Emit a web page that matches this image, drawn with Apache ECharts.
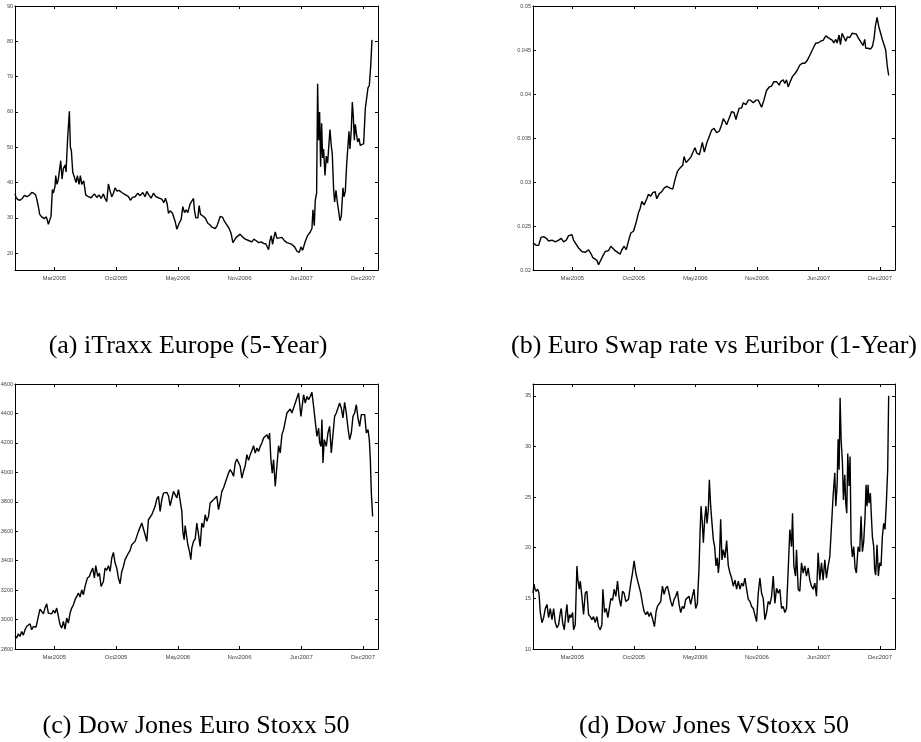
<!DOCTYPE html>
<html>
<head>
<meta charset="utf-8">
<title>Credit and market indicators</title>
<script src="https://cdn.jsdelivr.net/npm/echarts@6/dist/echarts.min.js"></script>
<style>
html,body{margin:0;padding:0;background:#fff;}
#main{width:921px;height:742px;}
</style>
</head>
<body>
<div id="main"></div>
<script>
/*** data, x = time index (about one day) ***/
var xTickPos = [118, 303, 488, 673, 858, 1043];
var xTickLabels = ['Mar2005', 'Oct2005', 'May2006', 'Nov2006', 'Jun2007', 'Dec2007'];

var yTicksA = [20, 30, 40, 50, 60, 70, 80, 90];
var yTicksB = [0.02, 0.025, 0.03, 0.035, 0.04, 0.045, 0.05];
var yTicksC = [2800, 3000, 3200, 3400, 3600, 3800, 4000, 4200, 4400, 4600];
var yTicksD = [10, 15, 20, 25, 30, 35];

var captions = ['(a) iTraxx Europe (5-Year)', '(b) Euro Swap rate vs Euribor (1-Year)',
	'(c) Dow Jones Euro Stoxx 50', '(d) Dow Jones VStoxx 50'];

//iTraxx Europe 5Y
var itraxx = [[0,36.8],[3,35.8],[8,35.2],[15,35.0],[22,35.5],[28,36.4],[35,36.0],[42,36.3],[50,37.2],[56,37.0],
	[62,36.5],[66,35.0],[70,33.2],[74,31.0],[80,30.3],[88,29.8],[94,30.3],[100,28.2],[104,28.0],[108,30.5],
	[112,38.0],[115,37.0],[120,39.0],[122,42.0],[126,39.5],[130,41.0],[137,46.2],[141,41.0],[145,44.0],[150,45.0],
	[153,43.0],[158,53.0],[163,60.2],[166,50.0],[169,49.0],[173,43.0],[178,42.5],[183,40.0],[187,42.0],[192,39.5],
	[196,42.0],[200,39.5],[206,40.5],[212,36.5],[220,36.0],[228,35.7],[238,36.8],[245,35.8],[252,36.5],[258,35.5],
	[265,36.8],[270,35.5],[275,34.6],[280,39.6],[284,38.0],[290,36.0],[295,37.0],[300,38.5],[306,37.6],[312,37.8],
	[320,37.2],[330,36.6],[340,36.0],[346,35.0],[352,35.8],[360,36.0],[368,37.0],[375,36.3],[383,37.2],[390,36.0],
	[395,37.5],[402,36.4],[408,35.6],[415,37.0],[422,36.0],[430,35.7],[440,35.3],[446,34.3],[451,35.6],[456,34.0],
	[460,31.3],[465,32.0],[472,31.3],[480,29.0],[485,26.8],[492,28.5],[498,29.6],[503,33.2],[508,31.5],[513,32.3],
	[518,31.5],[525,34.0],[530,34.2],[535,35.5],[538,32.0],[542,30.0],[548,30.0],[552,33.5],[556,31.0],[562,30.6],
	[570,30.0],[578,28.5],[585,28.0],[590,27.4],[595,27.8],[600,27.0],[605,27.6],[610,27.3],[615,30.4],[622,30.2],
	[628,29.0],[635,28.0],[642,27.0],[648,25.5],[653,23.0],[658,22.8],[663,24.5],[668,24.0],[675,25.4],[680,24.8],
	[690,24.0],[700,23.6],[710,23.2],[716,24.0],[722,23.6],[730,23.0],[738,23.2],[745,22.8],[752,22.6],[760,21.0],
	[764,23.5],[768,25.0],[772,22.5],[776,24.5],[780,26.0],[785,24.2],[790,24.7],[800,24.5],[808,23.5],[815,23.0],
	[822,22.8],[830,22.5],[838,21.8],[845,20.6],[852,20.2],[857,21.8],[862,20.8],[866,20.6],[870,23.3],[877,25.0],
	[885,26.0],[890,27.0],[893,32.3],[897,27.8],[900,35.0],[904,37.0],[907,68.0],[910,52.0],[913,60.0],[916,44.5],
	[919,56.8],[922,47.0],[925,49.5],[929,42.0],[933,47.5],[937,45.5],[940,46.0],[944,55.0],[948,50.5],[951,48.0],
	[955,38.0],[958,34.5],[962,37.8],[966,34.5],[970,32.0],[974,29.2],[978,30.5],[983,38.5],[986,36.0],[990,37.5],
	[994,45.0],[997,44.5],[1001,54.5],[1004,49.5],[1008,55.0],[1011,62.8],[1014,58.7],[1017,52.0],[1020,56.5],[1023,54.0],
	[1027,51.5],[1031,52.5],[1035,50.5],[1040,50.0],[1045,51.0],[1050,61.0],[1054,61.5],[1058,66.8],[1062,67.5],[1066,72.8],
	[1070,80.4]];

//Euro swap rate vs Euribor 1Y
var swapRate = [[0,0.0231],[4,0.0233],[10,0.0228],[17,0.0228],[24,0.0237],[32,0.0238],[40,0.0236],[47,0.0233],[57,0.0234],[67,0.0232],
	[77,0.0234],[85,0.0236],[92,0.0232],[100,0.0234],[107,0.0239],[112,0.0241],[117,0.0240],[122,0.0234],[130,0.0229],[137,0.0225],
	[147,0.0221],[157,0.0220],[167,0.0223],[175,0.0218],[180,0.0214],[185,0.0216],[192,0.0211],[197,0.0206],[202,0.0208],[210,0.0216],
	[217,0.0221],[227,0.0222],[234,0.0227],[240,0.0226],[247,0.0222],[252,0.0223],[262,0.0218],[267,0.0223],[274,0.0227],[280,0.0223],
	[287,0.0233],[294,0.0242],[302,0.0244],[310,0.0254],[317,0.0265],[322,0.0270],[327,0.0278],[334,0.0274],[342,0.0281],[347,0.0286],
	[354,0.0284],[360,0.0288],[367,0.0289],[372,0.0281],[380,0.0287],[387,0.0289],[394,0.0293],[402,0.0295],[412,0.0293],[420,0.0292],
	[427,0.0303],[434,0.0312],[442,0.0316],[450,0.0319],[454,0.0329],[460,0.0322],[467,0.0325],[474,0.0328],[482,0.0335],[487,0.0339],
	[492,0.0333],[500,0.0331],[504,0.0337],[509,0.0345],[515,0.0334],[522,0.0344],[530,0.0352],[537,0.0359],[544,0.0361],[552,0.0356],
	[560,0.0358],[567,0.0365],[572,0.0372],[577,0.0369],[582,0.0365],[590,0.0373],[597,0.0380],[604,0.0379],[610,0.0371],[614,0.0377],
	[620,0.0384],[627,0.0384],[632,0.0390],[640,0.0388],[647,0.0393],[654,0.0393],[662,0.0390],[670,0.0393],[677,0.0393],[687,0.0385],
	[694,0.0393],[702,0.0404],[710,0.0408],[717,0.0409],[724,0.0414],[732,0.0414],[740,0.0410],[744,0.0414],[752,0.0416],[757,0.0412],
	[762,0.0416],[767,0.0408],[772,0.0413],[780,0.0420],[787,0.0423],[794,0.0427],[802,0.0433],[810,0.0435],[817,0.0435],[824,0.0438],
	[832,0.0444],[837,0.0448],[842,0.0452],[850,0.0458],[857,0.0458],[864,0.0460],[872,0.0461],[880,0.0466],[887,0.0464],[892,0.0463],
	[900,0.0461],[904,0.0458],[910,0.0462],[914,0.0458],[920,0.0467],[924,0.0456],[929,0.0469],[934,0.0471],[940,0.0460],[945,0.0465],
	[952,0.0464],[959,0.0469],[965,0.0467],[972,0.0468],[977,0.0464],[982,0.0466],[987,0.0458],[992,0.0455],[997,0.0462],[1000,0.0452],
	[1007,0.0452],[1014,0.0451],[1020,0.0454],[1025,0.0463],[1029,0.0477],[1034,0.0487],[1039,0.0477],[1044,0.0475],[1050,0.0462],[1055,0.0461],
	[1060,0.0450],[1065,0.0431],[1069,0.0421]];

//DJ Euro Stoxx 50
var stoxx50 = [[0,2890],[5,2874],[10,2903],[15,2885],[20,2919],[25,2894],[30,2931],[35,2953],[40,2947],[45,2971],
	[50,2931],[55,2953],[63,2949],[70,3021],[75,3071],[80,3078],[85,3039],[90,3078],[95,3107],[100,3044],
	[105,3055],[110,3039],[115,3062],[120,3044],[125,3078],[130,3071],[135,2965],[140,2942],[145,2987],[150,2935],
	[155,3010],[160,2976],[165,3044],[170,3078],[175,3101],[180,3135],[185,3157],[190,3180],[195,3153],[200,3202],
	[205,3169],[210,3225],[217,3282],[223,3293],[227,3320],[233,3350],[238,3282],[242,3366],[248,3293],[253,3316],
	[258,3225],[265,3259],[270,3350],[275,3334],[280,3366],[285,3327],[290,3418],[295,3456],[300,3384],[305,3350],
	[310,3282],[315,3243],[320,3327],[325,3361],[330,3407],[335,3407],[340,3452],[345,3470],[350,3508],[355,3501],
	[360,3531],[365,3565],[370,3599],[375,3606],[380,3656],[385,3645],[390,3576],[395,3531],[400,3678],[405,3678],
	[410,3712],[415,3719],[420,3769],[425,3819],[430,3837],[435,3735],[440,3814],[445,3859],[450,3855],[455,3864],
	[460,3841],[465,3773],[470,3769],[475,3871],[480,3859],[485,3826],[490,3882],[495,3882],[500,3735],[503,3599],
	[507,3542],[510,3638],[515,3626],[518,3508],[523,3463],[527,3407],[530,3486],[535,3531],[540,3547],[545,3656],
	[550,3651],[555,3497],[560,3656],[565,3626],[570,3712],[575,3667],[580,3701],[585,3792],[590,3780],[595,3814],
	[600,3803],[605,3837],[610,3746],[615,3803],[620,3871],[625,3894],[630,3928],[635,3961],[640,3995],[645,4018],
	[650,4000],[655,3973],[660,4063],[665,4090],[670,4081],[675,4041],[680,3961],[685,4007],[690,4045],[695,4120],
	[700,4081],[705,4120],[710,4149],[715,4181],[720,4131],[725,4165],[730,4142],[735,4176],[740,4199],[745,4233],
	[750,4233],[755,4256],[760,4226],[763,4267],[767,4086],[771,3995],[775,4086],[780,3905],[785,4041],[790,4181],
	[795,4131],[800,4256],[805,4290],[810,4346],[815,4403],[820,4392],[825,4430],[830,4403],[835,4437],[840,4471],
	[845,4482],[850,4539],[853,4548],[857,4380],[861,4392],[865,4527],[870,4471],[875,4516],[880,4494],[885,4516],
	[890,4543],[895,4448],[900,4459],[905,4244],[910,4301],[913,4204],[917,4176],[920,4358],[923,4063],[927,4222],
	[933,4176],[938,4267],[943,4312],[948,4131],[953,4256],[958,4380],[963,4403],[968,4414],[973,4471],[978,4437],
	[983,4369],[988,4475],[993,4403],[998,4301],[1003,4222],[1008,4267],[1013,4380],[1018,4403],[1023,4459],[1028,4369],
	[1033,4312],[1038,4392],[1043,4403],[1048,4392],[1053,4267],[1058,4290],[1062,4222],[1065,4086],[1068,3859],[1072,3701]];

//DJ VStoxx 50
var vstoxx = [[0,15.5],[3,16.4],[6,15.9],[9,15.7],[14,15.9],[18,15.5],[22,13.6],[27,12.6],[32,13.1],[37,14.0],
	[42,14.4],[47,13.1],[52,14.0],[57,12.9],[62,14.0],[67,12.6],[72,12.1],[77,12.4],[82,13.6],[85,14.0],
	[89,12.6],[94,11.9],[99,13.6],[102,14.4],[106,12.6],[110,13.4],[114,13.1],[119,13.6],[122,11.9],[127,12.4],
	[132,18.2],[135,16.8],[139,15.9],[142,16.7],[147,15.2],[152,13.4],[157,15.5],[162,15.7],[167,13.4],[172,13.2],
	[177,12.9],[182,13.2],[187,12.6],[192,13.2],[197,12.2],[202,11.9],[207,12.4],[210,15.9],[215,13.6],[220,14.0],
	[225,13.1],[229,13.2],[234,15.0],[239,14.8],[244,15.9],[249,15.2],[254,16.7],[259,15.0],[264,14.2],[269,15.7],
	[274,15.5],[279,14.7],[287,14.9],[294,16.5],[299,17.5],[304,18.7],[309,17.5],[314,16.8],[319,16.8],[324,15.5],
	[329,14.5],[334,13.7],[339,13.4],[344,13.7],[349,13.2],[354,13.6],[360,12.9],[365,12.2],[370,13.7],[374,14.2],
	[379,14.2],[384,14.7],[389,16.2],[394,15.4],[399,16.0],[404,16.2],[409,15.5],[414,14.7],[419,14.2],[424,14.9],
	[429,15.2],[434,15.7],[439,14.4],[444,13.6],[449,14.2],[454,14.0],[459,14.9],[464,14.9],[469,15.2],[474,14.4],
	[479,15.2],[484,15.9],[489,14.0],[494,14.5],[499,18.0],[502,21.4],[505,24.1],[509,22.4],[512,20.5],[516,22.8],
	[520,24.1],[523,22.4],[527,23.8],[530,26.7],[534,24.1],[538,22.4],[542,20.8],[546,20.1],[550,18.2],[554,19.0],
	[557,17.5],[560,18.5],[564,22.8],[568,18.8],[572,19.8],[577,19.0],[582,20.7],[587,18.2],[592,17.5],[597,17.0],
	[602,16.2],[607,16.8],[612,15.9],[617,16.7],[622,15.9],[627,16.5],[632,16.2],[637,17.0],[642,15.9],[647,14.9],
	[652,14.7],[657,14.2],[662,14.0],[667,13.9],[672,12.7],[677,15.5],[682,17.0],[687,15.5],[692,15.0],[697,12.9],
	[702,13.6],[707,14.7],[712,14.4],[717,15.2],[722,17.2],[727,14.5],[732,16.0],[737,15.5],[742,15.9],[747,14.0],
	[752,14.2],[757,13.6],[762,14.0],[767,17.8],[772,21.8],[777,20.1],[780,23.4],[784,18.2],[789,17.2],[792,19.8],
	[797,15.9],[802,15.7],[807,18.5],[812,17.5],[817,18.2],[822,17.2],[827,18.0],[832,16.8],[837,16.2],[842,15.9],
	[847,16.5],[852,15.2],[857,19.5],[862,16.8],[867,18.5],[872,16.8],[877,18.8],[882,17.0],[887,18.2],[892,19.1],
	[897,19.0],[902,25.1],[907,27.4],[910,24.1],[914,26.1],[917,30.7],[920,27.7],[923,34.8],[926,30.7],[930,28.4],
	[933,24.7],[937,27.2],[940,24.4],[943,23.4],[946,29.3],[950,26.1],[953,29.0],[956,20.6],[960,19.1],[964,20.1],
	[968,18.0],[972,17.5],[977,20.1],[982,19.6],[986,23.1],[990,19.6],[994,20.6],[998,23.1],[1001,26.2],[1004,24.1],
	[1007,26.2],[1010,24.4],[1014,25.4],[1017,23.1],[1020,21.1],[1024,20.1],[1027,17.8],[1030,17.3],[1034,20.3],[1038,17.2],
	[1042,18.5],[1046,18.2],[1050,21.1],[1054,22.4],[1058,21.8],[1062,24.4],[1066,27.7],[1069,35.0]];

/*** layout of the four panels ***/
var panels = [
	{data: itraxx, ticks: yTicksA, min: 15.25, max: 90, left: 15, top: 6, width: 363, height: 264},
	{data: swapRate, ticks: yTicksB, min: 0.02, max: 0.05, left: 533, top: 6, width: 362, height: 264},
	{data: stoxx50, ticks: yTicksC, min: 2800, max: 4600, left: 15, top: 384, width: 363, height: 265},
	{data: vstoxx, ticks: yTicksD, min: 10, max: 36.16, left: 533, top: 384, width: 362, height: 265}
];
var captionPos = [[188, 346], [714, 346], [196, 726], [714, 726]];

var frameLine = {show: true, onZero: false, lineStyle: {color: '#000', width: 1}};

//small helper instead of jquery
var $ = {extend: function(a, b){ for(var k in b){ a[k] = b[k]; } return a; }};

function xLabel(v){
	var i = xTickPos.indexOf(v);
	return i < 0 ? '' : xTickLabels[i];
}

function yLabel(v){
	return String(+v.toFixed(4));
}

function buildOption(){
	var grids = [], xAxes = [], yAxes = [], series = [], graphics = [];
	for(var i=0;i<panels.length;i++){
		var p = panels[i];
		grids.push({left: p.left, top: p.top, width: p.width, height: p.height, outerBoundsMode: 'none'});
		//bottom and top x axes (ticks inside, like a boxed matlab plot)
		xAxes.push({
			type: 'value', gridIndex: i, position: 'bottom', min: 0, max: 1088,
			axisLine: frameLine,
			axisTick: {show: true, inside: true, length: 3, customValues: xTickPos, lineStyle: {color: '#000'}},
			axisLabel: {show: true, margin: 5, customValues: xTickPos, formatter: xLabel,
				fontSize: 6, color: '#444', fontFamily: 'Liberation Sans'},
			splitLine: {show: false}
		});
		xAxes.push({
			type: 'value', gridIndex: i, position: 'top', min: 0, max: 1088,
			axisLine: frameLine,
			axisTick: {show: true, inside: true, length: 3, customValues: xTickPos, lineStyle: {color: '#000'}},
			axisLabel: {show: false},
			splitLine: {show: false}
		});
		yAxes.push({
			type: 'value', gridIndex: i, position: 'left', min: p.min, max: p.max,
			axisLine: frameLine,
			axisTick: {show: true, inside: true, length: 3, customValues: p.ticks, lineStyle: {color: '#000'}},
			axisLabel: {show: true, margin: 2, customValues: p.ticks, formatter: yLabel,
				fontSize: 5.5, color: '#444', fontFamily: 'Liberation Sans'},
			splitLine: {show: false}
		});
		yAxes.push({
			type: 'value', gridIndex: i, position: 'right', min: p.min, max: p.max,
			axisLine: frameLine,
			axisTick: {show: true, inside: true, length: 3, customValues: p.ticks, lineStyle: {color: '#000'}},
			axisLabel: {show: false},
			splitLine: {show: false}
		});
		series.push({
			type: 'line', xAxisIndex: i*2, yAxisIndex: i*2, data: p.data,
			showSymbol: false, symbol: 'none',
			lineStyle: {color: '#000', width: 1.4}
		});
		graphics.push({
			type: 'text', x: captionPos[i][0], y: captionPos[i][1],
			style: {text: captions[i], fill: '#000', font: '26px "Liberation Serif"', align: 'center', verticalAlign: 'middle'}
		});
	}
	return {
		animation: false,
		backgroundColor: '#fff',
		grid: grids, xAxis: xAxes, yAxis: yAxes, series: series, graphic: graphics
	};
}

var myChart = echarts.init(document.getElementById('main'));
myChart.setOption(buildOption());
</script>
</body>
</html>
